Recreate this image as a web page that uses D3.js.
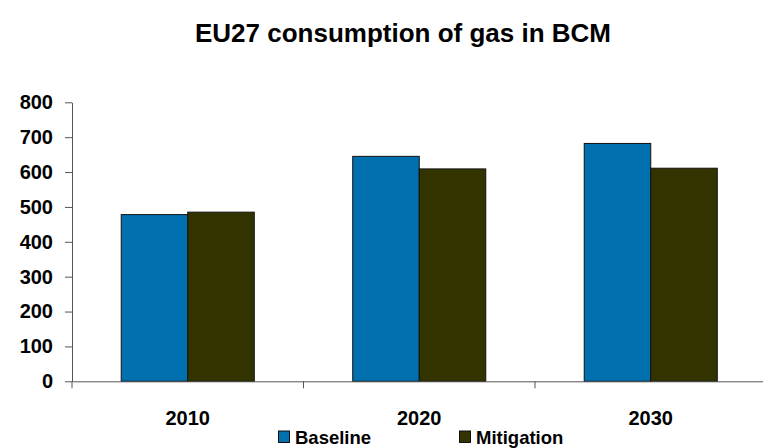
<!DOCTYPE html>
<html>
<head>
<meta charset="utf-8">
<script src="https://cdn.jsdelivr.net/npm/d3@7"></script>
<style>
  body { margin: 0; background: #fff; }
  svg { display: block; font-family: "Liberation Sans", Arial, sans-serif; }
</style>
</head>
<body>
<svg id="chart" width="763" height="448"></svg>
<script>
const years = ["2010", "2020", "2030"];
const seriesNames = ["Baseline", "Mitigation"];
const baseline = [478, 645, 682];
const mitigation = [485, 609, 611];
const yTicks = [0, 100, 200, 300, 400, 500, 600, 700, 800];
const colors = ["#0070AF", "#333300"];

const svg = d3.select("#chart");
const plotLeft = 72, plotRight = 766.5, plotTop = 102.3, plotBottom = 381.3;

const x = d3.scaleBand().domain(years).range([plotLeft, plotRight]).padding(0);
const xs = d3.scaleBand().domain(seriesNames).range([0, x.bandwidth()])
    .paddingInner(0).paddingOuter(0.74);
const y = d3.scaleLinear().domain([0, 800]).range([plotBottom, plotTop]);

// title
svg.append("text")
    .attr("x", 403).attr("y", 41.5)
    .attr("text-anchor", "middle")
    .style("font-size", "26px").style("font-weight", "bold")
    .text("EU27 consumption of gas in BCM");

// bars
const rows = years.map((yr, i) => ({ year: yr, values: [baseline[i], mitigation[i]] }));
const groups = svg.selectAll(".grp")
    .data(rows)
    .enter()
    .append("g")
    .attr("class", "grp")
    .attr("transform", d => "translate(" + x(d.year) + ",0)");

groups.selectAll("rect")
    .data(d => d.values.map((v, j) => ({ name: seriesNames[j], v: v, c: colors[j] })))
    .enter()
    .append("rect")
    .attr("x", d => xs(d.name))
    .attr("width", xs.bandwidth())
    .attr("y", d => y(d.v))
    .attr("height", d => plotBottom - y(d.v))
    .attr("fill", d => d.c)
    .attr("stroke", "#111")
    .attr("stroke-width", 1);

// y axis
const yAxis = svg.append("g")
    .attr("transform", "translate(" + plotLeft + ",0)")
    .call(d3.axisLeft(y).tickValues(yTicks).tickSize(7).tickPadding(12).tickSizeOuter(0));
yAxis.select(".domain").attr("stroke", "#555");
yAxis.selectAll(".tick line").attr("stroke", "#555");
yAxis.selectAll("text")
    .style("font-size", "20px").style("font-weight", "bold")
    .attr("fill", "#000");

// x axis
const xAxis = svg.append("g")
    .attr("transform", "translate(0," + plotBottom + ")")
    .call(d3.axisBottom(x).tickSize(0).tickSizeOuter(0).tickPadding(0));
xAxis.select(".domain").attr("stroke", "#555");
xAxis.selectAll("text")
    .attr("y", 44).attr("dy", null)
    .style("font-size", "20px").style("font-weight", "bold")
    .attr("fill", "#000");

// category separators
xAxis.selectAll(".sep")
    .data(years.concat(["end"]))
    .enter()
    .append("line")
    .attr("x1", (d, i) => plotLeft + i * x.step())
    .attr("x2", (d, i) => plotLeft + i * x.step())
    .attr("y1", 0).attr("y2", 7)
    .attr("stroke", "#555");

// legend
const legendX = [278.5, 459.5];
const legend = svg.selectAll(".leg")
    .data(seriesNames)
    .enter()
    .append("g")
    .attr("class", "leg")
    .attr("transform", (d, i) => "translate(" + legendX[i] + ",431)");
legend.append("rect")
    .attr("width", 11).attr("height", 11.5)
    .attr("fill", (d, i) => colors[i])
    .attr("stroke", "#111");
legend.append("text")
    .attr("x", 16.5).attr("y", 13)
    .style("font-size", "18.5px").style("font-weight", "bold")
    .text(d => d);
</script>
</body>
</html>
